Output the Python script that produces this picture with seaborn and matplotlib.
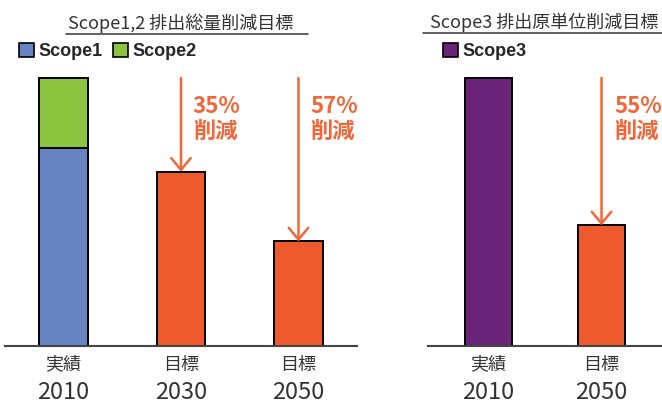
import numpy as np
import pandas as pd
import matplotlib
matplotlib.use('Agg')
import matplotlib.pyplot as plt
import seaborn as sns
from matplotlib.patches import Patch
from matplotlib.lines import Line2D
import matplotlib.transforms as mtrans

# datos
left_years = ['2010', '2030', '2050']
left_kinds = ['実績', '目標', '目標']
scope1 = [74, 0, 0]
scope2 = [26, 0, 0]
left_totals = [100, 65, 39]
left_cuts = [None, '35%\n削減', '57%\n削減']

right_years = ['2010', '2050']
right_kinds = ['実績', '目標']
scope3 = [100, 45]
right_cuts = [None, '55%\n削減']

c_blue = '#6683C2'
c_green = '#8CC43F'
c_orange = '#EE5A2B'
c_purple = '#6A2479'
c_text = '#F0683A'
c_gray = '#333333'

sns.set_style('white')
plt.rcParams['font.family'] = ['Noto Sans CJK JP', 'DejaVu Sans']

fig = plt.figure(figsize=(6.62, 4.03), dpi=100)
H = 403
W = 662
bottom = (H - 346) / H
height = (346 - 40) / H
ax1 = fig.add_axes([5 / W, bottom, 352 / W, height])
ax2 = fig.add_axes([428 / W, bottom, 234 / W, height])
ymax = 306 / 2.68


def style_axis(ax, years, kinds, xlim):
    ax.set_xlim(*xlim)
    ax.set_ylim(0, ymax)
    for s in ['left', 'right', 'top']:
        ax.spines[s].set_visible(False)
    ax.spines['bottom'].set_color('#444444')
    ax.spines['bottom'].set_linewidth(1.5)
    ax.set_yticks([])
    ax.set_ylabel('')
    ax.set_xlabel('')
    ax.set_xticks(range(len(years)))
    ax.set_xticklabels(kinds, fontsize=13, color=c_gray)
    ax.tick_params(axis='x', length=0, pad=7)
    tr = mtrans.blended_transform_factory(ax.transData, ax.transAxes)
    for i, y in enumerate(years):
        ax.annotate(y, (i, 0), xycoords=tr, xytext=(0, -38.5), textcoords='offset points',
                    ha='center', va='baseline', fontsize=17, color=c_gray)


def cut_arrows(ax, vals, cuts, dx):
    for i, (v, t) in enumerate(zip(vals, cuts)):
        if t is None:
            continue
        ax.annotate('', xy=(i, v), xytext=(i, 100),
                    arrowprops=dict(arrowstyle='->,head_length=0.6,head_width=0.5',
                                    color=c_text, lw=1.8, shrinkA=0, shrinkB=0,
                                    mutation_scale=14))
        ax.text(i + dx, 93.5, t, ha='left', va='top', fontsize=16, fontweight='bold',
                color=c_text, linespacing=1.1)


# panel izquierdo
df_l = pd.DataFrame({'year': left_years, 'total': left_totals, 's1': scope1})
sns.barplot(data=df_l, x='year', y='total', hue='year', order=left_years,
            palette=[c_green, c_orange, c_orange], legend=False, width=0.417,
            edgecolor='black', linewidth=1.4, saturation=1, ax=ax1)
sns.barplot(data=df_l.iloc[:1], x='year', y='s1', order=left_years, color=c_blue,
            width=0.417, edgecolor='black', linewidth=1.4, saturation=1, ax=ax1)
style_axis(ax1, left_years, left_kinds, (-0.498, 2.498))
cut_arrows(ax1, left_totals, left_cuts, 0.1)

# panel derecho
df_r = pd.DataFrame({'year': right_years, 'val': scope3})
sns.barplot(data=df_r, x='year', y='val', hue='year', order=right_years,
            palette=[c_purple, c_orange], legend=False, width=0.416,
            edgecolor='black', linewidth=1.4, saturation=1, ax=ax2)
style_axis(ax2, right_years, right_kinds, (-0.535, 1.535))
cut_arrows(ax2, scope3, right_cuts, 0.115)

# títulos con subrayado
fig.text(181 / W, 1 - 23 / H, 'Scope1,2 排出総量削減目標', ha='center', va='center',
         fontsize=13, color=c_gray)
fig.add_artist(Line2D([66 / W, 308 / W], [1 - 33.5 / H] * 2, color='#555555', lw=1.3))
fig.text(544 / W, 1 - 22 / H, 'Scope3 排出原単位削減目標', ha='center', va='center',
         fontsize=13, color=c_gray)
fig.add_artist(Line2D([423 / W, 662 / W], [1 - 33 / H] * 2, color='#555555', lw=1.3))

# leyendas
leg_kw = dict(frameon=False, borderpad=0, borderaxespad=0, handlelength=0.85,
              handleheight=0.85, handletextpad=0.25, columnspacing=0.55,
              prop={'family': 'Liberation Sans', 'weight': 'bold', 'size': 13})
h1 = [Patch(facecolor=c_blue, edgecolor='black', lw=1.2, label='Scope1'),
      Patch(facecolor=c_green, edgecolor='black', lw=1.2, label='Scope2')]
fig.legend(handles=h1, loc='upper left', bbox_to_anchor=(19 / W, 1 - 43 / H), ncol=2, **leg_kw)
h3 = [Patch(facecolor=c_purple, edgecolor='black', lw=1.2, label='Scope3')]
fig.legend(handles=h3, loc='upper left', bbox_to_anchor=(443 / W, 1 - 43 / H), ncol=1, **leg_kw)

fig.savefig('out.png', dpi=100)
